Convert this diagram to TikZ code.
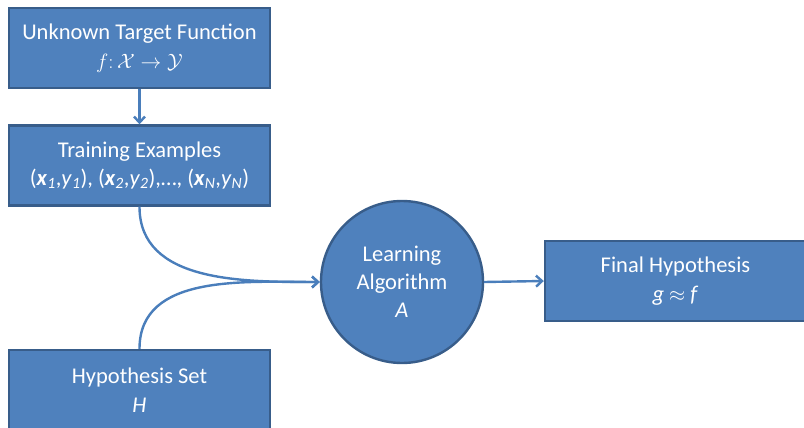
\documentclass[tikz,border=0pt]{standalone}
\usepackage{fontspec}
\setmainfont{Carlito}
\usetikzlibrary{arrows.meta}
\definecolor{boxblue}{HTML}{4F81BD}
\definecolor{edgeblue}{HTML}{385D8A}
\definecolor{lineblue}{HTML}{4A7EBB}
\newcommand{\xypair}[1]{(\textbf{\textit{x}}\textsubscript{\textit{#1}},\textit{y}\textsubscript{\textit{#1}})}
\tikzset{
  block/.style={draw=edgeblue, fill=boxblue, line width=2.4pt, text=white,
    minimum width=261pt, minimum height=80pt, align=center,
    font=\fontsize{22.5}{28.5}\selectfont},
  learner/.style={circle, draw=edgeblue, fill=boxblue, line width=2.4pt,
    text=white, minimum size=162pt, align=center, inner sep=0pt,
    font=\fontsize{22.5}{28}\selectfont},
  flow/.style={draw=lineblue, line width=2.4pt, -{Straight Barb[length=6pt,width=11pt]}}
}
\begin{document}
\begin{tikzpicture}[x=1pt, y=-1pt]
    \clip (0,0) rectangle (804,428);
    \useasboundingbox (0,0) rectangle (804,428);

    % --- boxes on the left -----------------------------------------------
    \node[block] (target) at (139.5,48) {Unknown Target Function\\
      $f\colon \mathcal{X}\rightarrow\mathcal{Y}$};
    \node[block] (train) at (139.5,165.5) {Training Examples\\
      \xypair{1}, \xypair{2},\dots, \xypair{N}};
    \node[block] (hypset) at (139.5,390) {Hypothesis Set\\ \textit{H}};

    % --- learning algorithm and result -----------------------------------
    \node[learner] (algo) at (402,282) {Learning\\ Algorithm\\ \textit{A}};
    \node[block] (final) at (675.5,281) {Final Hypothesis\\ \textit{g} $\approx$ \textit{f}};

    % --- connectors ------------------------------------------------------
    \draw[flow] (target.south) -- (train.north);
    \draw[flow] (train.south) to[out=-90, in=180] (algo.west);
    \draw[flow] (hypset.north) to[out=90, in=180] (algo.west);
    \draw[flow] (algo.east) -- (final.west);
  \end{tikzpicture}
\end{document}
